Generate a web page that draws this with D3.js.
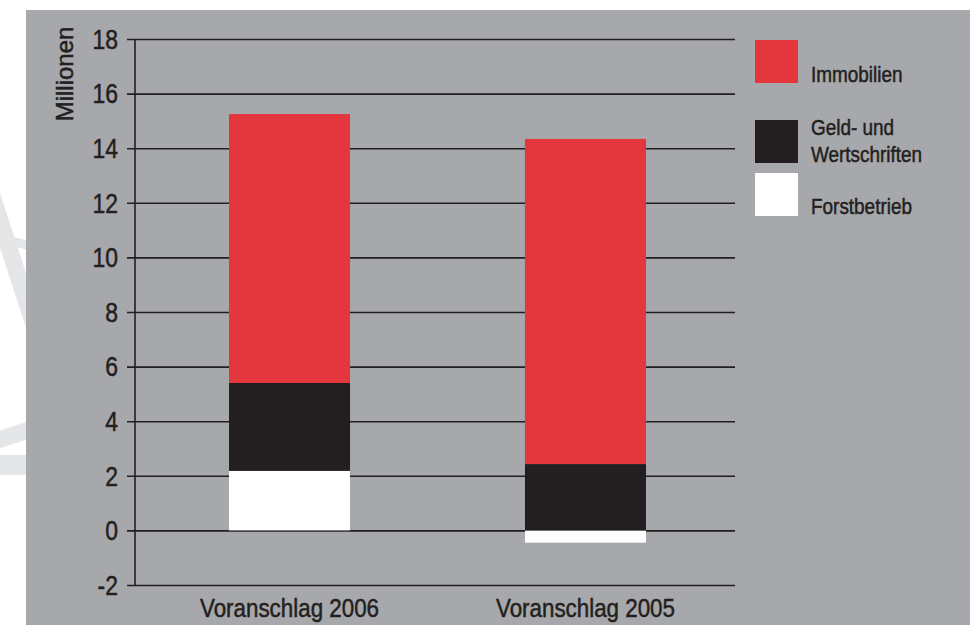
<html>
<script src="https://d3js.org/d3.v7.min.js"></script>
<style>
  body { margin: 0; background: #fff; }
  text { font-family: "Liberation Sans", Arial, sans-serif; fill: #231f20; stroke: #231f20; stroke-width: 0.5px; }
</style>
<body></body>
<script>
const categories = ['Voranschlag 2006', 'Voranschlag 2005'];
const seriesNames = ['Forstbetrieb', 'Geld- und Wertschriften', 'Immobilien'];
const forstbetrieb = [2.18, -0.45];
const geld = [3.22, 2.43];
const immobilien = [9.85, 11.91];
const yTicks = [-2, 0, 2, 4, 6, 8, 10, 12, 14, 16, 18];

const colors = {'Immobilien': '#e3363d', 'Geld- und Wertschriften': '#231f20', 'Forstbetrieb': '#ffffff'};

const width = 976, height = 625;

const rows = categories.map((c, i) => ({
  cat: c,
  'Forstbetrieb': forstbetrieb[i],
  'Geld- und Wertschriften': geld[i],
  'Immobilien': immobilien[i]
}));

const svg = d3.select('body').append('svg')
  .attr('width', width)
  .attr('height', height);

// watermark in the white strip on the left
svg.append('clipPath').attr('id', 'wm')
  .append('rect').attr('x', 0).attr('y', 0).attr('width', 26).attr('height', height);
const wm = svg.append('g').attr('clip-path', 'url(#wm)');
wm.append('rect')
  .attr('transform', 'translate(-55,310) rotate(-18)')
  .attr('x', -70).attr('y', -150).attr('width', 150).attr('height', 290).attr('rx', 25)
  .attr('fill', 'none').attr('stroke', '#e5e6e7').attr('stroke-width', 17);
wm.append('line')
  .attr('x1', 8).attr('y1', 240).attr('x2', 30).attr('y2', 246)
  .attr('stroke', '#e5e6e7').attr('stroke-width', 9).attr('stroke-linecap', 'round');
wm.append('rect').attr('x', 0).attr('y', 455).attr('width', 26).attr('height', 20).attr('fill', '#e5e6e7');

// gray panel
svg.append('rect')
  .attr('x', 26).attr('y', 10).attr('width', 944).attr('height', height - 10)
  .attr('fill', '#a7a8ab');

const y = d3.scaleLinear().domain([-2, 18]).range([585, 39]);
const x = d3.scaleBand().domain(categories).range([135, 740])
  .paddingInner(0.591).paddingOuter(0.3176);

// grid lines + ticks
svg.append('g')
  .attr('transform', 'translate(127,0)')
  .call(d3.axisLeft(y).tickValues(yTicks).tickSize(-608).tickFormat(''))
  .call(g => {
    g.select('.domain').remove();
    g.selectAll('line').attr('stroke', '#231f20').attr('stroke-width', 1.6);
  });

// tick labels
svg.append('g')
  .selectAll('text')
  .data(yTicks)
  .join('text')
  .attr('x', 118)
  .attr('y', d => y(d))
  .attr('dy', '0.36em')
  .attr('text-anchor', 'end')
  .attr('font-size', 27)
  .attr('data-sq', 0.85)
  .text(d => d);

// stacked bars
const stack = d3.stack().keys(seriesNames).offset(d3.stackOffsetDiverging);
const layers = stack(rows);

svg.append('g')
  .selectAll('g')
  .data(layers)
  .join('g')
  .attr('fill', d => colors[d.key])
  .selectAll('rect')
  .data(d => d)
  .join('rect')
  .attr('x', d => x(d.data.cat))
  .attr('width', x.bandwidth())
  .attr('y', d => y(d[1]))
  .attr('height', d => y(d[0]) - y(d[1]));

// vertical axis line
svg.append('line')
  .attr('x1', 135).attr('x2', 135)
  .attr('y1', y(18)).attr('y2', y(-2))
  .attr('stroke', '#231f20').attr('stroke-width', 1.6);

// category labels
svg.append('g')
  .selectAll('text')
  .data(categories)
  .join('text')
  .attr('x', d => x(d) + x.bandwidth() / 2)
  .attr('y', 617)
  .attr('text-anchor', 'middle')
  .attr('font-size', 26)
  .attr('data-sq', 0.86)
  .text(d => d);

// y axis title
svg.append('text')
  .attr('transform', 'translate(73,74) rotate(-90)')
  .attr('text-anchor', 'middle')
  .attr('font-size', 24)
  .attr('data-sq', 1.0)
  .text('Millionen');

// legend
const legend = [
  {key: 'Immobilien', y: 40, lines: [{t: 'Immobilien', dy: 42}]},
  {key: 'Geld- und Wertschriften', y: 120, lines: [{t: 'Geld- und', dy: 15}, {t: 'Wertschriften', dy: 42}]},
  {key: 'Forstbetrieb', y: 173, lines: [{t: 'Forstbetrieb', dy: 41}]}
];
const lg = svg.append('g')
  .selectAll('g')
  .data(legend)
  .join('g')
  .attr('transform', d => `translate(755,${d.y})`);
lg.append('rect')
  .attr('width', 43).attr('height', 43)
  .attr('fill', d => colors[d.key]);
lg.selectAll('text')
  .data(d => d.lines)
  .join('text')
  .attr('x', 56)
  .attr('y', d => d.dy)
  .attr('font-size', 22)
  .attr('data-sq', 0.86)
  .text(d => d.t);

// squeeze text horizontally for the condensed look
svg.selectAll('text').each(function() {
  const len = this.getComputedTextLength();
  const f = +this.getAttribute('data-sq');
  d3.select(this)
    .attr('textLength', len * f)
    .attr('lengthAdjust', 'spacingAndGlyphs');
});
</script>
</html>
